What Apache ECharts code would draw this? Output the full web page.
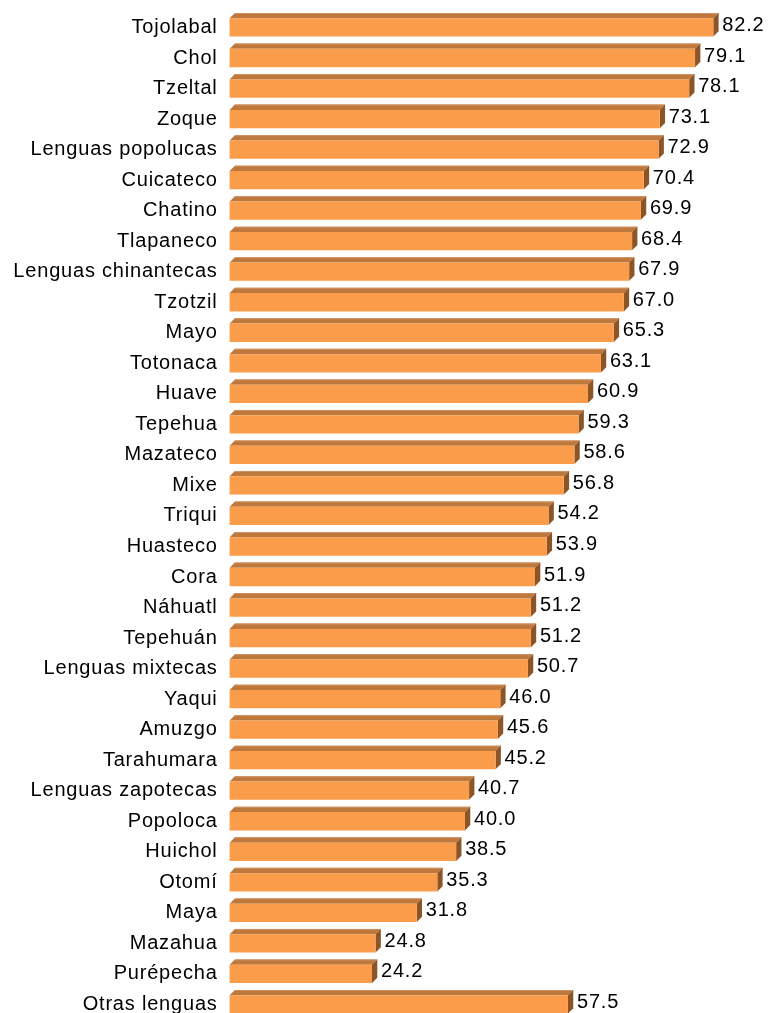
<!DOCTYPE html>
<html>
<head>
<meta charset="utf-8">
<script src="https://cdn.jsdelivr.net/npm/echarts@6/dist/echarts.min.js"></script>
<style>
html,body{margin:0;padding:0;background:#fff;}
#chart{width:769px;height:1013px;}
</style>
</head>
<body>
<div id="chart"></div>
<script>
const categories = ["Tojolabal","Chol","Tzeltal","Zoque","Lenguas popolucas","Cuicateco","Chatino","Tlapaneco","Lenguas chinantecas","Tzotzil","Mayo","Totonaca","Huave","Tepehua","Mazateco","Mixe","Triqui","Huasteco","Cora","Náhuatl","Tepehuán","Lenguas mixtecas","Yaqui","Amuzgo","Tarahumara","Lenguas zapotecas","Popoloca","Huichol","Otomí","Maya","Mazahua","Purépecha","Otras lenguas"];
const values = [82.2,79.1,78.1,73.1,72.9,70.4,69.9,68.4,67.9,67.0,65.3,63.1,60.9,59.3,58.6,56.8,54.2,53.9,51.9,51.2,51.2,50.7,46.0,45.6,45.2,40.7,40.0,38.5,35.3,31.8,24.8,24.2,57.5];

// slightly wider letter spacing, as in the reference typography
(function(){
  const proto = CanvasRenderingContext2D.prototype;
  const orig = proto.fillText;
  proto.fillText = function(){
    try { this.letterSpacing = '0.8px'; } catch(e) {}
    return orig.apply(this, arguments);
  };
})();

const chart = echarts.init(document.getElementById('chart'), null, {renderer:'canvas'});
const FONT = 'Liberation Sans, Arial, sans-serif';
const option = {
  animation: false,
  backgroundColor: '#ffffff',
  grid: {left: 229.6, right: 9.8, top: 12.2, height: 1007.5, containLabel: false, outerBoundsMode: 'none'},
  xAxis: {type: 'value', min: 0, max: 90, show: false},
  yAxis: {
    type: 'category', data: categories, inverse: true,
    axisLine: {show: false}, axisTick: {show: false}, splitLine: {show: false},
    axisLabel: {fontFamily: FONT, fontSize: 20, color: '#000000', margin: 12, interval: 0}
  },
  series: [{
    type: 'custom',
    clip: false,
    data: values.map((v, i) => [v, i]),
    encode: {x: 0, y: 1},
    renderItem: function(params, api){
      const v = api.value(0), idx = api.value(1);
      const p0 = api.coord([0, idx]);
      const p1 = api.coord([v, idx]);
      const h = 18.3, d = 5.3;
      const x = p0[0], x2 = p1[0];
      const y = p0[1] - h / 2;
      return {
        type: 'group',
        children: [
          {type: 'polygon', shape: {points: [[x, y], [x + d, y - d], [x2 + d, y - d], [x2, y]]},
           style: {fill: '#BF783C'}},
          {type: 'line', shape: {x1: x + d, y1: y - d + 0.5, x2: x2 + d, y2: y - d + 0.5},
           style: {stroke: '#D09060', lineWidth: 1}},
          {type: 'polygon', shape: {points: [[x2, y], [x2 + d, y - d], [x2 + d, y + h - d], [x2, y + h]]},
           style: {fill: '#8D5426'}},
          {type: 'rect', shape: {x: x, y: y, width: x2 - x, height: h},
           style: {fill: '#FA9C4A'}},
          {type: 'text', x: x2 + 9, y: p0[1] - 2,
           style: {text: v.toFixed(1), fontFamily: FONT, fontSize: 20, fill: '#000000',
                   align: 'left', verticalAlign: 'middle'}}
        ]
      };
    }
  }]
};
chart.setOption(option);
</script>
</body>
</html>
